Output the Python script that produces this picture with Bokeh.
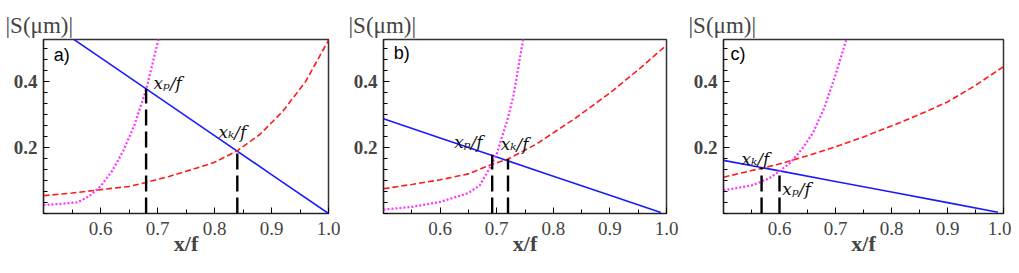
from bokeh.plotting import figure
from bokeh.layouts import row
from bokeh.models import Range1d, FixedTicker, Label
from bokeh.embed import file_html
from bokeh.resources import INLINE

# ---------------- data ----------------
x_ticks = [0.6, 0.7, 0.8, 0.9, 1.0]
x_tick_labels = ["0.6", "0.7", "0.8", "0.9", "1.0"]
y_ticks = [0.2, 0.4]
y_tick_labels = ["0.2", "0.4"]
panel_letters = ["a)", "b)", "c)"]
y_title = "|S(μm)|"
x_title = "x/f"
xp_text = "xₚ/f"
xk_text = "xₖ/f"

# panel a
a_blue_x = [0.5, 0.6, 0.7, 0.8, 0.9, 1.0]
a_blue_y = [0.59, 0.472, 0.354, 0.236, 0.118, 0.0]
a_red_x = [0.5, 0.55, 0.6, 0.65, 0.68, 0.72, 0.76, 0.8, 0.84, 0.88, 0.92, 0.96, 1.0]
a_red_y = [0.054, 0.062, 0.072, 0.082, 0.094, 0.112, 0.133, 0.155, 0.19, 0.24, 0.31, 0.40, 0.525]
a_mag_x = [0.5, 0.53, 0.56, 0.58, 0.6, 0.62, 0.64, 0.66, 0.68, 0.69, 0.70, 0.705]
a_mag_y = [0.026, 0.029, 0.034, 0.052, 0.082, 0.128, 0.19, 0.27, 0.375, 0.445, 0.515, 0.55]
a_xp, a_xp_top = 0.68, 0.378
a_xk, a_xk_top = 0.84, 0.19

# panel b
b_blue_x = [0.5, 0.6, 0.7, 0.8, 0.9, 0.99]
b_blue_y = [0.287, 0.229, 0.171, 0.113, 0.055, 0.003]
b_red_x = [0.5, 0.55, 0.6, 0.65, 0.69, 0.72, 0.77, 0.84, 0.9, 0.95, 1.0]
b_red_y = [0.075, 0.088, 0.102, 0.12, 0.148, 0.165, 0.21, 0.29, 0.365, 0.435, 0.51]
b_mag_x = [0.5, 0.55, 0.6, 0.65, 0.67, 0.69, 0.70, 0.71, 0.72, 0.73, 0.74, 0.75]
b_mag_y = [0.012, 0.02, 0.035, 0.062, 0.085, 0.145, 0.18, 0.235, 0.29, 0.36, 0.46, 0.56]
b_xp, b_xp_top = 0.692, 0.178
b_xk, b_xk_top = 0.72, 0.165

# panel c
c_blue_x = [0.5, 0.6, 0.7, 0.8, 0.9, 0.99]
c_blue_y = [0.161, 0.129, 0.097, 0.065, 0.033, 0.004]
c_red_x = [0.5, 0.55, 0.6, 0.65, 0.7, 0.75, 0.8, 0.85, 0.9, 0.95, 1.0]
c_red_y = [0.11, 0.13, 0.15, 0.175, 0.202, 0.232, 0.265, 0.30, 0.338, 0.388, 0.445]
c_mag_x = [0.5, 0.55, 0.58, 0.6, 0.62, 0.64, 0.66, 0.68, 0.70, 0.72]
c_mag_y = [0.07, 0.085, 0.105, 0.128, 0.155, 0.195, 0.245, 0.32, 0.42, 0.53]
c_xk, c_xk_top = 0.568, 0.139
c_xp, c_xp_top = 0.60, 0.128

SERIF = "'Liberation Serif'"


def make_panel(letter, blue, red, mag, vlines, labels, letter_pos, geom):
    w, bl, br, toff = geom
    p = figure(width=w, height=273, output_backend="svg", toolbar_location=None,
               x_range=Range1d(0.5, 1.0), y_range=Range1d(0.0, 0.527),
               min_border_left=bl, min_border_right=br,
               min_border_top=39, min_border_bottom=60)
    p.grid.visible = False
    p.outline_line_color = "#333333"
    p.outline_line_width = 1.5
    p.background_fill_color = "white"
    p.border_fill_color = "white"

    p.title.text = y_title
    p.title.align = "left"
    p.title.offset = toff
    p.title.text_font = SERIF
    p.title.text_font_size = "23px"
    p.title.text_font_style = "normal"
    p.title.standoff = 4

    xa = p.xaxis[0]
    xa.ticker = FixedTicker(ticks=x_ticks,
                            minor_ticks=[0.5 + 0.05 * i for i in range(11)])
    xa.major_label_overrides = {t: s for t, s in zip(x_ticks, x_tick_labels)}
    xa.major_tick_in = 6
    xa.major_tick_out = 0
    xa.minor_tick_in = 4
    xa.minor_tick_out = 0
    xa.major_label_text_font = SERIF
    xa.major_label_text_font_size = "19px"
    xa.major_label_standoff = 8
    xa.axis_label = x_title
    xa.axis_label_text_font = SERIF
    xa.axis_label_text_font_size = "22px"
    xa.axis_label_text_font_style = "bold"
    xa.axis_label_standoff = -7
    xa.axis_line_color = "#222222"
    xa.axis_line_width = 1.2

    ya = p.yaxis[0]
    ya.ticker = FixedTicker(ticks=y_ticks,
                            minor_ticks=[i / 30 for i in range(17)])
    ya.major_label_overrides = {t: s for t, s in zip(y_ticks, y_tick_labels)}
    ya.major_tick_in = 6
    ya.major_tick_out = 0
    ya.minor_tick_in = 4
    ya.minor_tick_out = 0
    ya.major_label_text_font = SERIF
    ya.major_label_text_font_size = "19px"
    ya.major_label_text_font_style = "bold"
    ya.major_label_standoff = 6
    ya.axis_line_color = "#222222"
    ya.axis_line_width = 1.2

    p.line(blue[0], blue[1], line_color="#1a1aff", line_width=1.6)
    p.line(red[0], red[1], line_color="#ff1a1a", line_width=1.6, line_dash="6 3")
    p.line(mag[0], mag[1], line_color="#ff33ff", line_width=2.2, line_dash="2 2")
    for (vx, vtop) in vlines:
        p.line([vx, vx], [0.0, vtop], line_color="black", line_width=2.4,
               line_dash="16 6")
    for (txt, tx, ty) in labels:
        p.add_layout(Label(x=tx, y=ty, text=txt, text_font="'DejaVu Serif'",
                           text_font_style="italic", text_font_size="17px",
                           text_baseline="middle", text_align="left",
                           text_color="#111111"))
    p.add_layout(Label(x=letter_pos[0], y=letter_pos[1], text=letter,
                       text_font="'Liberation Sans'", text_font_size="18px",
                       text_baseline="middle", text_align="left",
                       text_color="black"))
    return p


pa = make_panel(panel_letters[0], (a_blue_x, a_blue_y), (a_red_x, a_red_y),
                (a_mag_x, a_mag_y),
                [(a_xp, a_xp_top), (a_xk, a_xk_top)],
                [(xp_text, 0.693, 0.394), (xk_text, 0.807, 0.246)],
                (0.518, 0.48), (340, 43, 12, -38))
pb = make_panel(panel_letters[1], (b_blue_x, b_blue_y), (b_red_x, b_red_y),
                (b_mag_x, b_mag_y),
                [(b_xp, b_xp_top), (b_xk, b_xk_top)],
                [(xp_text, 0.625, 0.218), (xk_text, 0.707, 0.21)],
                (0.518, 0.486), (340, 43, 14, -35))
pc = make_panel(panel_letters[2], (c_blue_x, c_blue_y), (c_red_x, c_red_y),
                (c_mag_x, c_mag_y),
                [(c_xk, c_xk_top), (c_xp, c_xp_top)],
                [(xk_text, 0.532, 0.165), (xp_text, 0.605, 0.074)],
                (0.5125, 0.484), (331, 43, 8, -35))

layout = row(pa, pb, pc, spacing=0)
open("out.html", "w").write(file_html(layout, INLINE))
